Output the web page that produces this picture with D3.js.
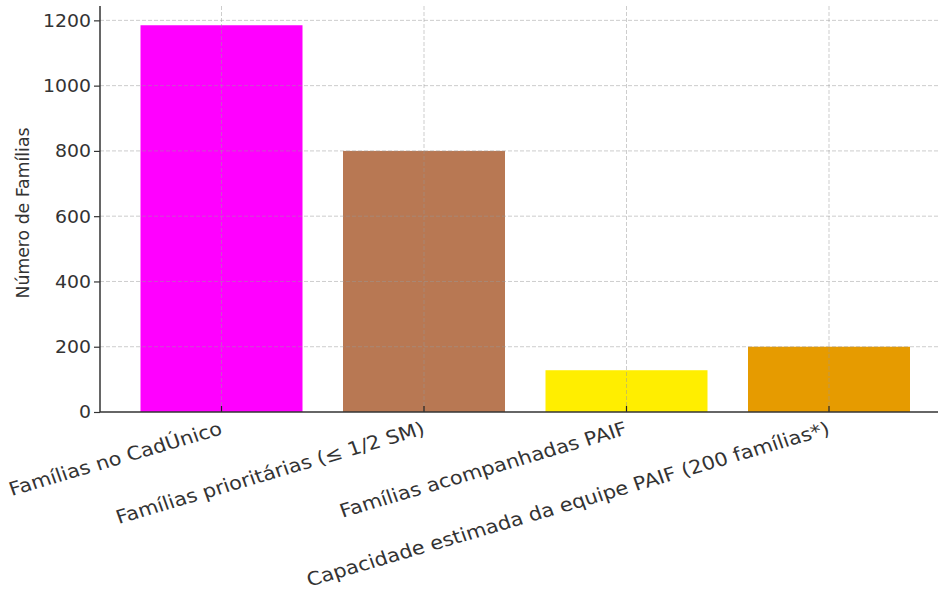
<!DOCTYPE html>
<html>
<head>
<meta charset="utf-8">
<script src="https://cdn.jsdelivr.net/npm/d3@7"></script>
<style>
  html, body { margin: 0; padding: 0; background: #fff; }
  svg { display: block; font-family: "DejaVu Sans", sans-serif; }
</style>
</head>
<body>
<svg id="chart" width="938" height="594"></svg>
<script>
const categories = [
  "Famílias no CadÚnico",
  "Famílias prioritárias (≤ 1/2 SM)",
  "Famílias acompanhadas PAIF",
  "Capacidade estimada da equipe PAIF (200 famílias*)"
];
const values = [1185, 800, 128, 200];
const colors = ["#ff00ff", "#b87853", "#ffee00", "#e69b00"];
const yTicks = [0, 200, 400, 600, 800, 1000, 1200];
const yLabel = "Número de Famílias";

(function () {
const W = 938, H = 594;
const pLeft = 100, pRight = 950.5, pTop = 6, pBottom = 412;
const SX = 1.11;       // horizontal text stretch of the reference
const FS = 17;
const FSX = 18.8;
const ROT = -18;

const svg = d3.select("#chart");

const x = d3.scaleBand().domain(categories).range([pLeft, pRight])
  .paddingInner(0.2).paddingOuter(0.2);
const y = d3.scaleLinear().domain([0, 1244]).range([pBottom, pTop]);

// bars
svg.append("g").selectAll("rect").data(values).join("rect")
  .attr("x", (d, i) => x(categories[i]))
  .attr("width", x.bandwidth())
  .attr("y", d => y(d))
  .attr("height", d => y(0) - y(d))
  .attr("fill", (d, i) => colors[i]);

// grid (drawn over bars)
const grid = svg.append("g").attr("stroke", "#9a9a9a").attr("stroke-opacity", 0.55)
  .attr("stroke-width", 0.9).attr("stroke-dasharray", "4,2").attr("fill", "none");
grid.selectAll("line.h").data(yTicks.filter(t => t > 0)).join("line")
  .attr("class", "h")
  .attr("x1", pLeft).attr("x2", W).attr("y1", d => y(d)).attr("y2", d => y(d));
grid.selectAll("line.v").data(categories).join("line")
  .attr("class", "v")
  .attr("x1", d => x(d) + x.bandwidth() / 2).attr("x2", d => x(d) + x.bandwidth() / 2)
  .attr("y1", pTop).attr("y2", pBottom);

// y axis
const yAxis = svg.append("g").attr("transform", `translate(${pLeft},0)`)
  .call(d3.axisLeft(y).tickValues(yTicks).tickSize(6).tickPadding(0).tickFormat(d3.format("d")));
yAxis.select(".domain").remove();
yAxis.selectAll(".tick line").attr("stroke", "#333").attr("stroke-width", 1.2);
yAxis.selectAll(".tick text")
  .attr("x", null)
  .attr("transform", `translate(-9,0) scale(${SX},1)`)
  .attr("dy", "0.35em").attr("text-anchor", "end")
  .attr("font-size", FS).attr("fill", "#333").attr("font-family", "DejaVu Sans");

// x axis
const xAxis = svg.append("g").attr("transform", `translate(0,${pBottom})`)
  .call(d3.axisBottom(x).tickSize(-6).tickFormat(""));
xAxis.select(".domain").remove();
xAxis.selectAll(".tick line").attr("stroke", "#222").attr("stroke-width", 1.2);
xAxis.selectAll(".tick text").remove();

// x labels (rotated, right aligned at tick)
svg.append("g").selectAll("text").data(categories).join("text")
  .attr("transform", d => `translate(${x(d) + x.bandwidth() / 2 + 2},${pBottom + 22}) scale(${SX},1) rotate(${ROT})`)
  .attr("text-anchor", "end")
  .attr("font-size", FSX).attr("fill", "#333")
  .text(d => d);

// spines
svg.append("line").attr("x1", pLeft).attr("x2", pLeft).attr("y1", pTop).attr("y2", pBottom)
  .attr("stroke", "#333").attr("stroke-width", 1.5);
svg.append("line").attr("x1", pLeft).attr("x2", W).attr("y1", pBottom).attr("y2", pBottom)
  .attr("stroke", "#333").attr("stroke-width", 1.5);

// y label
svg.append("text")
  .attr("transform", `translate(29,213) rotate(-90)`)
  .attr("text-anchor", "middle")
  .attr("font-size", 17.3).attr("fill", "#333")
  .text(yLabel);
})();
</script>
</body>
</html>
